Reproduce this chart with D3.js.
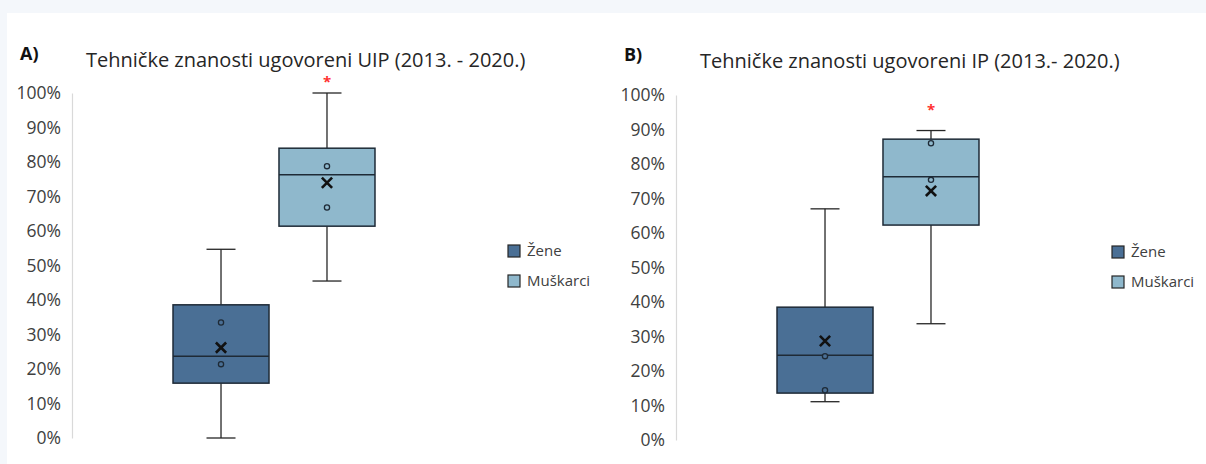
<!DOCTYPE html>
<html>
<head>
<meta charset="utf-8">
<script src="https://cdn.jsdelivr.net/npm/d3@7"></script>
<style>
  body { margin: 0; background: #f4f7fb; }
  svg { display: block; }
</style>
</head>
<body>
<div id="chart"></div>
<script>
// skupine
var groups = ["Žene", "Muškarci"];
var yTicks = [0, 10, 20, 30, 40, 50, 60, 70, 80, 90, 100];

// A) UIP 2013. - 2020.
var uipMin = [0, 45.5];
var uipQ1 = [15.9, 61.4];
var uipMedian = [23.7, 76.3];
var uipQ3 = [38.6, 84.0];
var uipMax = [54.7, 100];
var uipMean = [26.2, 74.0];
var uipPoints = [[33.5, 21.4], [78.8, 66.8]];
var uipStar = [null, 104];

// B) IP 2013.- 2020.
var ipMin = [11.1, 33.7];
var ipQ1 = [13.6, 62.3];
var ipMedian = [24.6, 76.3];
var ipQ3 = [38.5, 87.2];
var ipMax = [67.0, 89.7];
var ipMean = [28.7, 72.2];
var ipPoints = [[24.3, 14.4], [86.0, 75.4]];
var ipStar = [null, 96.6];

var colors = ["#4a6f95", "#8fb8cc"];
var font = "'Open Sans', 'Noto Sans', sans-serif";

var svg = d3.select("#chart")
    .append("svg")
    .attr("width", 1206)
    .attr("height", 464);

svg.append("rect")
    .attr("x", 7).attr("y", 13)
    .attr("width", 1206).attr("height", 464)
    .attr("fill", "#ffffff");

function drawPanel(opt) {
    var g = svg.append("g")
        .attr("transform", "translate(" + opt.left + "," + opt.top + ")");

    var height = 345;
    var y = d3.scaleLinear().domain([0, 100]).range([height, 0]);
    var x = d3.scalePoint().domain(groups).range([0, 404]).padding(1.406);
    var boxW = 96, capW = 29;

    // y os
    var yAxis = d3.axisLeft(y)
        .tickValues(yTicks)
        .tickSize(0)
        .tickPadding(11)
        .tickFormat(function (d) { return d + "%"; });
    var ax = g.append("g").call(yAxis);
    ax.select(".domain").attr("stroke", "#d9d9d9").attr("stroke-width", 1.2);
    ax.selectAll("text")
        .attr("font-family", font)
        .attr("font-size", 17.5)
        .attr("fill", "#404040");

    groups.forEach(function (grp, i) {
        var cx = x(grp);
        var wh = g.append("g").attr("stroke", "#262626").attr("stroke-width", 1.3);
        // brkovi
        wh.append("line").attr("x1", cx).attr("x2", cx)
            .attr("y1", y(opt.max[i])).attr("y2", y(opt.q3[i]));
        wh.append("line").attr("x1", cx).attr("x2", cx)
            .attr("y1", y(opt.q1[i])).attr("y2", y(opt.min[i]));
        wh.append("line").attr("x1", cx - capW / 2).attr("x2", cx + capW / 2)
            .attr("y1", y(opt.max[i])).attr("y2", y(opt.max[i]));
        wh.append("line").attr("x1", cx - capW / 2).attr("x2", cx + capW / 2)
            .attr("y1", y(opt.min[i])).attr("y2", y(opt.min[i]));

        // kutija
        g.append("rect")
            .attr("x", cx - boxW / 2)
            .attr("y", y(opt.q3[i]))
            .attr("width", boxW)
            .attr("height", y(opt.q1[i]) - y(opt.q3[i]))
            .attr("fill", colors[i])
            .attr("stroke", "#1e2a36")
            .attr("stroke-width", 1.5);
        g.append("line")
            .attr("x1", cx - boxW / 2).attr("x2", cx + boxW / 2)
            .attr("y1", y(opt.median[i])).attr("y2", y(opt.median[i]))
            .attr("stroke", "#1e2a36").attr("stroke-width", 1.5);

        // točke
        g.selectAll(null)
            .data(opt.points[i])
            .enter()
            .append("circle")
            .attr("cx", cx)
            .attr("cy", function (d) { return y(d); })
            .attr("r", 2.6)
            .attr("fill", colors[i])
            .attr("stroke", "#1e2a36")
            .attr("stroke-width", 1.3);

        // srednja vrijednost
        g.append("path")
            .attr("d", d3.symbol().type(d3.symbolTimes).size(70)())
            .attr("transform", "translate(" + cx + "," + y(opt.mean[i]) + ")")
            .attr("stroke", "#111")
            .attr("stroke-width", 2.6)
            .attr("fill", "none");

        if (opt.star[i] != null) {
            g.append("text")
                .attr("x", cx)
                .attr("y", y(opt.star[i]) + 8)
                .attr("text-anchor", "middle")
                .attr("font-family", font)
                .attr("font-size", 15)
                .attr("font-weight", "bold")
                .attr("fill", "#ff3030")
                .text("*");
        }
    });

    // naslovi
    svg.append("text")
        .attr("x", opt.labelX).attr("y", opt.labelY)
        .attr("font-family", font)
        .attr("font-size", 18)
        .attr("font-weight", "bold")
        .attr("fill", "#111")
        .text(opt.label);
    svg.append("text")
        .attr("x", opt.titleX).attr("y", opt.titleY)
        .attr("font-family", font)
        .attr("font-size", 20)
        .attr("fill", "#262626")
        .text(opt.title);

    // legenda
    var lg = svg.append("g")
        .attr("transform", "translate(" + opt.legendX + "," + opt.legendY + ")");
    groups.forEach(function (grp, i) {
        lg.append("rect")
            .attr("x", 0).attr("y", i * 30 - 6)
            .attr("width", 12).attr("height", 12)
            .attr("fill", colors[i])
            .attr("stroke", "#262626")
            .attr("stroke-width", 1.2);
        lg.append("text")
            .attr("x", 19).attr("y", i * 30 + 5)
            .attr("font-family", font)
            .attr("font-size", 15)
            .attr("fill", "#404040")
            .text(grp);
    });
}

drawPanel({
    left: 72, top: 93,
    min: uipMin, q1: uipQ1, median: uipMedian, q3: uipQ3, max: uipMax,
    mean: uipMean, points: uipPoints, star: uipStar,
    label: "A)", labelX: 20, labelY: 60,
    title: "Tehničke znanosti ugovoreni UIP (2013. - 2020.)", titleX: 86, titleY: 67,
    legendX: 508, legendY: 251
});

drawPanel({
    left: 676, top: 95,
    min: ipMin, q1: ipQ1, median: ipMedian, q3: ipQ3, max: ipMax,
    mean: ipMean, points: ipPoints, star: ipStar,
    label: "B)", labelX: 624, labelY: 61,
    title: "Tehničke znanosti ugovoreni IP (2013.- 2020.)", titleX: 700, titleY: 68,
    legendX: 1112, legendY: 252
});
</script>
</body>
</html>
